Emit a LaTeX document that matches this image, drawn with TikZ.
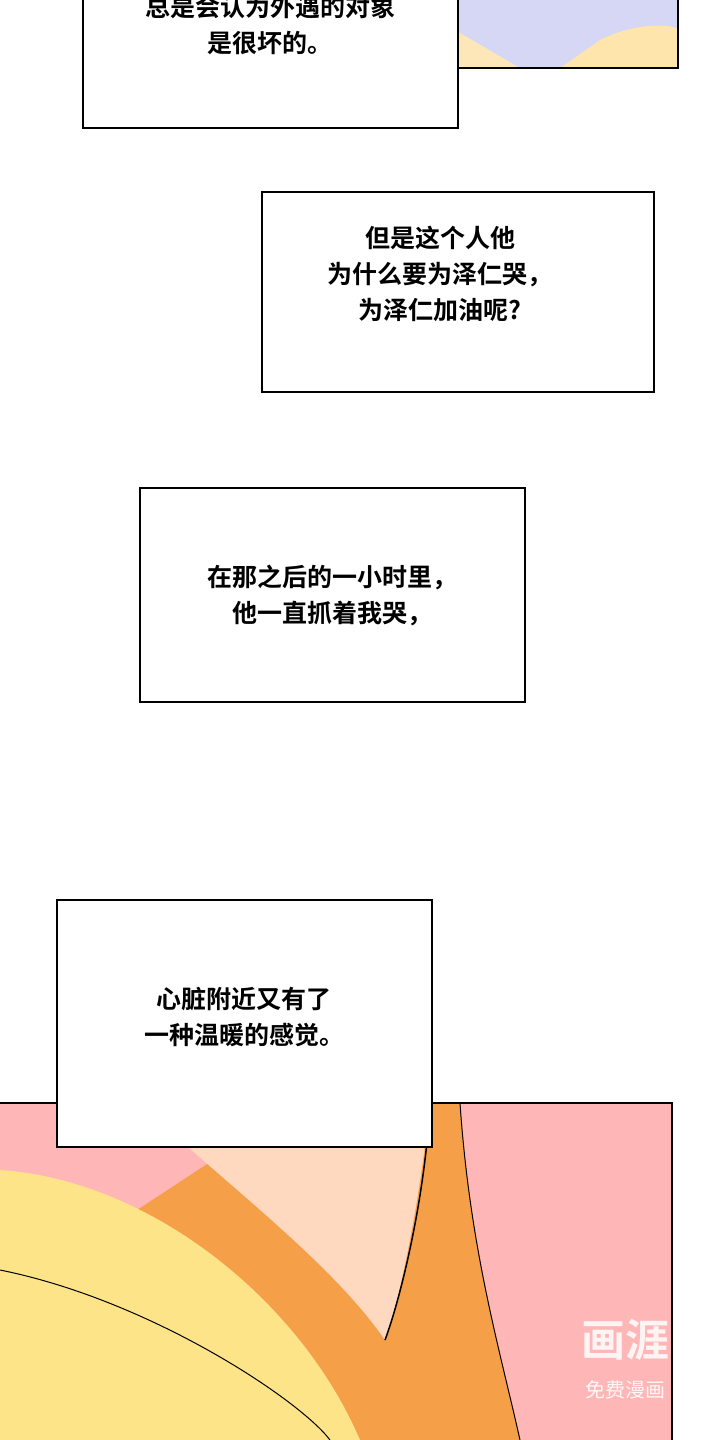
\documentclass[tikz,border=0pt]{standalone}
\usepackage{fontspec}
\newfontfamily\cjk{Noto Sans CJK SC}[BoldFont={Noto Sans CJK SC Bold}]
\begin{document}
\begin{tikzpicture}[x=1pt,y=-1pt,
  capbox/.style={draw=black,line width=2pt,fill=white},
  txt/.style={font=\cjk\bfseries\fontsize{25}{36}\selectfont,align=center,inner sep=0}]
\useasboundingbox (0,0) rectangle (719,1440);
\fill[white] (0,0) rectangle (719,1440);
% top panel
\fill[gray!40!blue!20] (455,0) rectangle (678,68);
\fill[yellow!30!orange!25] (455,30) -- (520,68) -- (455,68) -- cycle;
\fill[yellow!40!orange!30] (600,40) .. controls (640,20) and (678,25) .. (678,30) -- (678,68) -- (560,68) -- cycle;
\draw[black,line width=2pt] (455,0) -- (455,68) -- (678,68) -- (678,0);
% bottom panel
\fill[red!30!pink!60] (0,1103) rectangle (672,1440);
\fill[orange!80!brown!75] (300,1103) -- (460,1103) .. controls (470,1250) and (500,1350) .. (520,1440) -- (0,1440) -- (0,1300) -- cycle;
\fill[yellow!60!orange!45] (0,1170) .. controls (150,1180) and (300,1300) .. (360,1440) -- (0,1440) -- cycle;
\fill[pink!50!orange!40] (140,1103) -- (430,1103) .. controls (420,1200) and (400,1300) .. (385,1340) .. controls (330,1260) and (220,1180) .. (140,1103) -- cycle;
\draw[black,line width=1.5pt] (385,1340) .. controls (400,1300) and (425,1200) .. (430,1103);
\draw[black,line width=1pt] (0,1270) .. controls (150,1300) and (300,1400) .. (330,1440);
\draw[black,line width=1pt] (460,1103) .. controls (470,1250) and (500,1350) .. (520,1440);
\draw[black,line width=2pt] (0,1103) -- (672,1103) -- (672,1440);
% captions
\node[capbox,minimum width=375pt,minimum height=160pt] (b1) at (270.5,48) {};
\node[txt] (t1) at (270,25) {总是会认为外遇的对象\\是很坏的。};
\node[capbox,minimum width=392pt,minimum height=200pt] (b2) at (458,292) {};
\node[txt] (t2) at (440,274) {但是这个人他\\为什么要为泽仁哭，\\为泽仁加油呢?};
\node[capbox,minimum width=385pt,minimum height=214pt] (b3) at (332.5,595) {};
\node[txt] (t3) at (332,595) {在那之后的一小时里，\\他一直抓着我哭，};
\node[capbox,minimum width=375pt,minimum height=247pt] (b4) at (244.5,1023.5) {};
\node[txt] (t4) at (244,1017) {心脏附近又有了\\一种温暖的感觉。};
% watermark
\node[font=\cjk\bfseries\fontsize{44}{44}\selectfont,text=white,opacity=0.85] (w1) at (625,1340) {画涯};
\node[font=\cjk\fontsize{20}{20}\selectfont,text=white,opacity=0.9] (w2) at (625,1390) {免费漫画};
\end{tikzpicture}
\end{document}
